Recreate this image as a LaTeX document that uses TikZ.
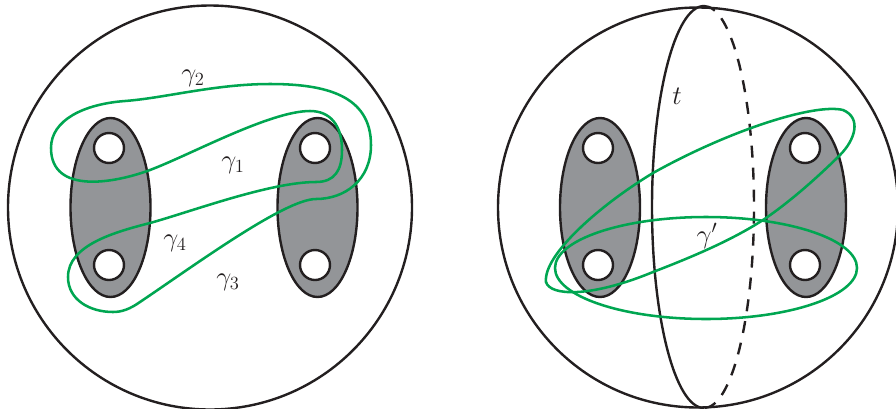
\documentclass[tikz,border=0pt]{standalone}
\usepackage{amsmath}
\usepackage{graphicx}
\definecolor{ink}{HTML}{231F20}
\definecolor{padgrey}{HTML}{939598}
\definecolor{loopgreen}{HTML}{00A651}
\newcommand{\biglab}[1]{\scalebox{1.16}{\fontsize{17.28}{20}\selectfont $#1$}}
\tikzset{
  sphere/.style={draw=ink,line width=1.8pt},
  pad/.style={draw=ink,fill=padgrey,line width=1.8pt},
  hole/.style={draw=ink,fill=white,line width=1.8pt},
  loopc/.style={draw=loopgreen,line width=1.9pt},
  lab/.style={text=ink,inner sep=0pt},
}
\begin{document}
\begin{tikzpicture}[x=0.75pt,y=-0.75pt]
\useasboundingbox (0,0) rectangle (896,408);
% left sphere
\draw[sphere] (210,207.5) circle [radius=202];
\draw[pad] (110.5,207.5) ellipse [x radius=40,y radius=89.5];
\draw[pad] (317.5,207.5) ellipse [x radius=40,y radius=89.5];
\foreach \p in {(109,148),(109,265),(315,148),(315,265)}
  \draw[hole] \p circle [radius=15];
\draw[loopc] (51,148) .. controls (51,120) and (84,104) .. (125,101)
 .. controls (165,98) and (215,84) .. (270,84)
 .. controls (325,84) and (371,95) .. (371,145)
 .. controls (371,180) and (345,199) .. (316,199)
 .. controls (285,199) and (195,265) .. (140,302)
 .. controls (130,309) and (122,312) .. (113,312)
 .. controls (90,312) and (68,300) .. (68,277)
 .. controls (68,245) and (115,232) .. (150,223)
 .. controls (190,212) and (270,182) .. (316,182)
 .. controls (335,182) and (342,170) .. (342,150)
 .. controls (342,125) and (330,111) .. (310,111)
 .. controls (270,111) and (190,155) .. (150,170)
 .. controls (115,183) and (51,195) .. (51,148) -- cycle;
\node[lab] (g2) at (193,78) {\biglab{\gamma_2}};
\node[lab] (g1) at (233,165) {\biglab{\gamma_1}};
\node[lab] (g4) at (175,243) {\biglab{\gamma_4}};
\node[lab] (g3) at (228,282) {\biglab{\gamma_3}};
% right sphere
\draw[sphere] (698,207.5) circle [radius=200];
\draw[sphere] (704,6) arc [start angle=-90,end angle=-270,x radius=52,y radius=201];
\draw[sphere,dash pattern=on 9pt off 7.5pt] (704,6) arc [start angle=-90,end angle=90,x radius=50,y radius=201];
\draw[pad] (600,207.5) ellipse [x radius=40,y radius=89.5];
\draw[pad] (806,207.5) ellipse [x radius=40,y radius=89.5];
\foreach \p in {(598,148),(598,265),(805,148),(805,265)}
  \draw[hole] \p circle [radius=15];
\draw[loopc] (706,268) ellipse [x radius=151,y radius=51];
\draw[loopc] (546,282) .. controls (550,296) and (590,298) .. (653,272)
 .. controls (700,254) and (735,238) .. (763,220)
 .. controls (790,202) and (820,175) .. (840,155)
 .. controls (855,140) and (862,118) .. (843,110)
 .. controls (815,103) and (730,130) .. (653,173)
 .. controls (600,205) and (543,255) .. (546,282) -- cycle;
\node[lab] (t) at (677,96) {\biglab{t}};
\node[lab] (gp) at (707,236) {\biglab{\gamma'}};
\end{tikzpicture}
\end{document}
